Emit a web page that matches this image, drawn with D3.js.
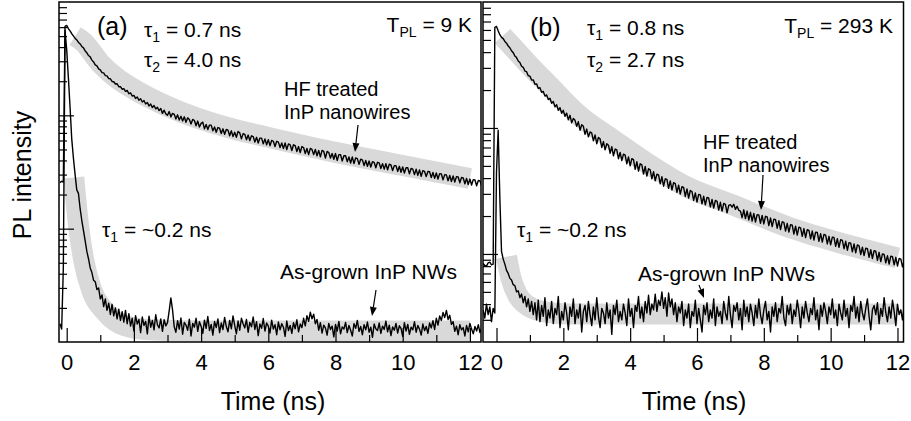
<!DOCTYPE html>
<html>
<head>
<meta charset="utf-8">
<script src="https://cdn.jsdelivr.net/npm/d3@7/dist/d3.min.js"></script>
<style>
  body { margin: 0; background: #fff; }
  svg { display: block; font-family: "Liberation Sans", Arial, Helvetica, sans-serif; }
</style>
</head>
<body>
<div id="chart"></div>
<script>
// x axis ticks (ns)
const timeTicks = [0, 2, 4, 6, 8, 10, 12];
const timeMinorTicks = [1, 3, 5, 7, 9, 11];

// ---- panel (a), T_PL = 9 K ----
// HF treated trace, sampled every 0.05 ns from -0.2 ns
const hfA_t0 = -0.2, hfA_dt = 0.05;
const hfA = [25.5, 26.2, 25.8, 610, 622, 583, 556, 525, 502, 478,
  463, 440, 427, 405, 394, 370, 356, 337, 328, 307,
  296, 279, 273, 257, 252, 238, 237, 224, 223, 211,
  210, 199, 198, 189, 190, 179, 179, 170, 172, 163,
  166, 155, 158, 148, 150, 141, 145, 136, 140, 131,
  135, 126, 130, 121, 126, 117, 122, 114, 118, 110,
  115, 104, 111, 103, 100, 108, 97, 104, 102, 93,
  101, 91, 98, 89, 97, 87, 95, 92, 84, 92,
  90, 81, 89, 79, 85, 87, 76, 83, 75, 82,
  82, 73, 79, 71, 78, 77, 69, 76, 68, 75,
  74, 66, 73, 65, 71, 64, 72, 70, 62, 69,
  68, 61, 67, 60, 66, 65, 58, 64, 57, 63,
  63, 56, 62, 55, 61, 54, 60, 59, 53, 59,
  58, 52, 57, 51, 57, 50, 56, 55, 49, 55,
  54, 48, 53, 47, 53, 52, 46, 51, 45, 51,
  50, 45, 50, 44, 49, 43, 49, 48, 42, 48,
  47, 42, 46, 41, 46, 40, 45, 45, 39.5, 44,
  44, 39, 43, 38, 43, 37.5, 42, 41.5, 37, 41,
  40.5, 36, 40, 35.5, 39.5, 35, 39, 38.5, 34.5, 38.5,
  38, 34, 37.5, 33.5, 37.5, 33, 37, 36.5, 32.5, 36,
  36, 32, 35.5, 31.5, 35, 31, 34.5, 34.5, 30.5, 34,
  33.5, 30, 33.5, 29.5, 33, 29, 32.5, 32, 28.8, 32,
  31.8, 28.2, 31.3, 27.8, 31, 27.4, 30.6, 30.4, 27, 30,
  29.8, 26.5, 29.5, 26.1, 29.2, 25.8, 28.8, 28.6, 25.4, 28.3,
  28.1, 24.9, 27.7, 24.5, 27.4, 24.3, 27.1, 26.9, 23.9, 26.6,
  26.4, 23.6];

// as-grown trace, sampled every 0.05 ns from -0.2 ns
const agA_t0 = -0.2, agA_dt = 0.05;
const agA = [1.45, 1.3, 4.5, 560, 380, 215, 118, 62, 42, 30, 22, 20.5, 15, 11.8, 9.6, 7.8, 6.3, 5.4, 4.5, 4.1,
  3.5, 3.4, 2.9, 3.0, 2.4, 2.6, 2.05, 2.4, 1.9, 2.2, 1.75, 2.15, 1.7, 2.0, 1.6, 1.95, 1.55, 1.85, 1.5, 1.9, 1.45,
  1.78, 1.38, 1.62, 1.25, 1.71, 1.44, 1.58, 1.21, 1.66, 1.40,
  1.52, 1.18, 1.69, 1.35, 1.55, 1.28, 1.74, 1.42, 1.33, 1.60,
  1.24, 1.57, 1.39, 1.48, 1.88, 2.45, 1.92, 1.36, 1.22, 1.54,
  1.30, 1.63, 1.17, 1.49, 1.41, 1.27, 1.59, 1.13, 1.46, 1.35,
  1.62, 1.24, 1.51, 1.38, 1.19, 1.56, 1.32, 1.68, 1.26, 1.43,
  1.15, 1.52, 1.34, 1.60, 1.21, 1.47, 1.29, 1.65, 1.37, 1.23,
  1.55, 1.31, 1.70, 1.40, 1.18, 1.53, 1.27, 1.62, 1.45, 1.33,
  1.58, 1.22, 1.49, 1.36, 1.66, 1.29, 1.51, 1.14, 1.44, 1.32,
  1.61, 1.25, 1.47, 1.38, 1.20, 1.56, 1.30, 1.42, 1.16, 1.50,
  1.28, 1.45, 1.35, 1.12, 1.53, 1.26, 1.40, 1.19, 1.48, 1.31,
  1.57, 1.23, 1.44, 1.34, 1.62, 1.39, 1.71, 1.52, 1.83, 1.60,
  1.76, 1.45, 1.58, 1.27, 1.48, 1.20, 1.41, 1.33, 1.15, 1.46,
  1.29, 1.38, 1.11, 1.43, 1.25, 1.52, 1.18, 1.36, 1.30, 1.49,
  1.21, 1.40, 1.27, 1.13, 1.45, 1.32, 1.55, 1.24, 1.37, 1.16,
  1.42, 1.28, 1.50, 1.22, 1.35, 1.10, 1.44, 1.31, 1.26, 1.47,
  1.19, 1.38, 1.29, 1.53, 1.23, 1.41, 1.14, 1.36, 1.27, 1.46,
  1.20, 1.39, 1.32, 1.12, 1.48, 1.25, 1.43, 1.17, 1.35, 1.28,
  1.51, 1.22, 1.40, 1.30, 1.15, 1.44, 1.26, 1.37, 1.19, 1.47,
  1.33, 1.54, 1.29, 1.62, 1.41, 1.70, 1.55, 1.82, 1.64, 1.90,
  1.58, 1.72, 1.43, 1.51, 1.24, 1.38, 1.16, 1.42, 1.28, 1.34,
  1.13, 1.40, 1.23, 1.46, 1.30, 1.18, 1.37, 1.25, 1.42, 1.21, 1.33];

// fit curves (grey bands)
const fitHfA_t = [0.25, 0.5, 1.0, 1.5, 2.0, 3.0, 4.0, 5.0, 6.0, 8.0, 10.0, 12.0];
const fitHfA = [500, 443, 288, 212, 170, 120, 92, 75.2, 63.9, 47.1, 36.1, 27.7];
const fitAgA_t = [0.21, 0.36, 0.51, 0.75, 1.13, 1.73, 2.48, 3.97, 12.0];
const fitAgA = [28.3, 10.2, 5.21, 2.83, 1.88, 1.39, 1.28, 1.25, 1.25];

// ---- panel (b), T_PL = 293 K ----
const hfB_t0 = -0.4, hfB_dt = 0.05;
const hfB = [8.4, 8.1, 8.0, 8.5, 8.6, 8.2, 8.3, 630, 640, 590,
  550, 524, 512, 486, 471, 447, 433, 410, 396, 373,
  362, 340, 331, 309, 303, 283, 280, 260, 258, 240,
  241, 222, 224, 206, 209, 192, 195, 179, 183, 168,
  172, 157, 162, 147, 153, 138, 145, 131, 138, 124,
  131, 116, 126, 110, 119, 115, 103, 112, 96, 106,
  103, 89, 98, 85, 93, 91, 79, 88, 75, 84,
  82, 70, 78, 67, 75, 73, 63, 71, 60, 68,
  67, 57, 64, 55, 62, 61, 52, 59, 50, 57,
  56, 47, 54, 45.5, 52, 51, 43, 49.5, 41.5, 47.5,
  46.5, 39.5, 45, 38, 43, 42.5, 36, 41, 34.5, 39.5,
  39, 33.2, 38, 32.2, 36.8, 36.2, 30.8, 35.2, 29.9, 34.2,
  33.8, 28.6, 32.8, 27.8, 31.9, 31.3, 26.6, 30.5, 25.8, 29.7,
  29.4, 25, 28.7, 24.5, 28.1, 27.8, 23.6, 27.1, 23.1, 26.6,
  26.2, 22.3, 25.7, 21.9, 25.2, 24.8, 21.2, 24.3, 24.6, 23.5,
  24.8, 22.6, 23.9, 22.2, 21.9, 19.4, 22.4, 19.1, 21.9, 18.6,
  21.4, 18.2, 21, 17.9, 20.5, 20.4, 17.5, 20.2, 17.3, 19.9,
  19.7, 16.8, 19.3, 16.5, 18.9, 18.7, 16, 18.4, 15.6, 18,
  17.8, 15.2, 17.5, 14.9, 17.1, 16.9, 14.4, 16.6, 14.1, 16.3,
  16.1, 13.8, 15.9, 13.5, 15.6, 15.4, 13.2, 15.2, 12.9, 14.9,
  14.8, 12.6, 14.5, 12.4, 14.3, 14.1, 12, 13.8, 11.8, 13.6,
  13.5, 11.5, 13.2, 11.3, 13, 12.8, 11, 12.6, 10.7, 12.3,
  12.2, 10.4, 12, 10.2, 11.8, 11.6, 9.9, 11.3, 9.7, 11.1,
  11, 9.4, 10.8, 9.2, 10.6, 10.5, 8.9, 10.3, 8.7, 10,
  9.9, 8.5, 9.7, 8.3, 9.6, 9.5, 8.2, 9.4, 8, 9.2,
  9.1, 7.9, 8.9];

const agB_t0 = -0.4, agB_dt = 0.05;
const agB = [3.6, 3.1, 4.0, 3.3, 3.8, 2.9, 3.7, 3.4, 45, 96, 28, 10.5, 9.1, 8.3, 7.4, 7.0, 6.4, 6.2, 5.7, 5.6,
  5.0, 5.1, 4.5, 4.8, 4.1, 4.6, 3.8, 4.4, 3.5, 4.2, 3.3, 4.1, 3.0,
  4.3, 2.9, 3.9, 3.2, 4.5, 2.7, 3.6, 3.1, 4.2, 2.8,
  3.7, 3.3, 4.6, 2.6, 3.5, 3.0, 4.1, 3.4, 2.5, 3.8,
  3.2, 4.4, 2.8, 3.6, 3.1, 4.0, 2.4, 3.5, 3.9, 2.9,
  4.2, 3.3, 2.7, 3.8, 3.0, 4.5, 3.2, 2.6, 3.7, 3.4,
  2.8, 4.1, 3.1, 3.6, 2.3, 3.9, 3.3, 4.3, 2.9, 3.5,
  3.0, 4.0, 3.4, 2.7, 4.4, 3.2, 3.7, 2.6, 3.9, 3.5,
  4.6, 3.1, 3.8, 2.9, 4.2, 3.4, 4.7, 3.3, 4.0, 3.6,
  4.8, 3.5, 4.3, 3.9, 5.0, 3.7, 4.5, 3.2, 4.9, 3.8,
  4.4, 3.3, 4.1, 2.9, 3.8, 3.4, 4.2, 2.7, 3.6, 3.1,
  4.0, 2.6, 3.5, 3.2, 4.3, 2.8, 3.7, 3.0, 2.4, 3.9,
  3.3, 4.1, 2.9, 3.6, 3.1, 4.4, 2.7, 3.8, 3.2, 3.5,
  2.8, 4.2, 3.4, 3.0, 4.6, 3.3, 2.6, 3.9, 3.5, 4.1,
  3.0, 3.7, 2.5, 4.3, 3.2, 3.8, 2.9, 4.0, 3.4, 2.7,
  3.9, 3.1, 4.4, 3.3, 2.8, 3.6, 4.2, 3.0, 3.5, 2.4,
  3.8, 3.2, 4.1, 2.9, 3.7, 3.4, 4.6, 3.1, 2.7, 3.9,
  3.3, 4.0, 2.8, 3.6, 3.2, 4.3, 3.5, 2.6, 3.8, 3.1,
  4.2, 3.4, 2.9, 3.7, 3.3, 4.5, 3.0, 3.6, 2.5, 3.9,
  3.2, 4.1, 3.5, 2.8, 3.8, 3.3, 4.4, 3.1, 3.6, 2.7,
  4.0, 3.4, 3.0, 4.3, 3.2, 3.7, 2.6, 3.9, 3.5, 4.6,
  3.1, 3.8, 2.9, 4.2, 3.4, 3.0, 3.7, 4.4, 3.2, 2.5,
  3.6, 3.9, 3.3, 4.1, 2.8, 3.7, 3.2, 4.5, 3.4, 2.9,
  3.8, 3.1, 4.3, 3.5, 2.7, 4.0, 3.3, 3.6, 3.0, 3.9];

const fitHfB_t = [0.18, 0.48, 1.0, 1.5, 2.49, 3.5, 4.5, 5.7, 7.0, 8.8, 10.5, 12.0];
const fitHfB = [537, 440, 311, 228, 124.5, 80.3, 52.7, 34.0, 24.9, 16.1, 11.8, 9.3];
const fitAgB_t = [0.30, 0.45, 0.63, 0.90, 1.44, 2.19, 12.0];
const fitAgB = [9.5, 6.2, 4.73, 3.94, 3.47, 3.34, 3.34];

// ---------------------------------------------------------------
const W = 911, H = 421;
const plotTop = 2, plotBottom = 342;

const sampled = (t0, dt, vals) => vals.map((v, i) => ({ t: t0 + i * dt, v }));
const paired = (ts, vals) => ts.map((t, i) => ({ t, v: vals[i] }));

const panels = [
  {
    id: "a", left: 59, right: 481, xDomain: [-0.229, 12.33], yDomain: [1, 1000],
    traces: [sampled(hfA_t0, hfA_dt, hfA), sampled(agA_t0, agA_dt, agA)],
    fits: [paired(fitHfA_t, fitHfA), paired(fitAgA_t, fitAgA)],
    label: "(a)", labelX: 97, labelY: 35,
    tau: ["0.7", "4.0"], tauX: 144, tauY: [37, 67],
    temp: "9 K", tempX: 472, tempY: 32,
    hfX: 284, hfY: 96, hfArrow: [358, 125, 355, 152],
    fastX: 102, fastY: 237,
    agX: 280, agY: 279, agArrow: [376, 290, 372, 316],
    titleX: 273
  },
  {
    id: "b", left: 483, right: 903.5, xDomain: [-0.404, 12.18], yDomain: [2, 1000],
    traces: [sampled(hfB_t0, hfB_dt, hfB), sampled(agB_t0, agB_dt, agB)],
    fits: [paired(fitHfB_t, fitHfB), paired(fitAgB_t, fitAgB)],
    label: "(b)", labelX: 530, labelY: 36,
    tau: ["0.8", "2.7"], tauX: 587, tauY: [35, 67],
    temp: "293 K", tempX: 893, tempY: 33,
    hfX: 703, hfY: 149, hfArrow: [763, 175, 761, 210],
    fastX: 517, fastY: 237,
    agX: 638, agY: 281, agArrow: [699, 285, 704, 298],
    titleX: 694
  }
];

const svg = d3.select("#chart").append("svg")
  .attr("width", W).attr("height", H);

function arrow(g, [x1, y1, x2, y2]) {
  const a = Math.atan2(y2 - y1, x2 - x1);
  const len = 9, half = 3.5;
  const bx = x2 - len * Math.cos(a), by = y2 - len * Math.sin(a);
  g.append("line").attr("x1", x1).attr("y1", y1).attr("x2", bx).attr("y2", by)
    .attr("stroke", "#000").attr("stroke-width", 1.2);
  g.append("path")
    .attr("d", `M${x2},${y2}L${bx - half * Math.sin(a)},${by + half * Math.cos(a)}L${bx + half * Math.sin(a)},${by - half * Math.cos(a)}Z`)
    .attr("fill", "#000");
}

function subText(g, x, y, size, main, sub, rest, anchor) {
  const t = g.append("text").attr("x", x).attr("y", y).attr("font-size", size)
    .attr("text-anchor", anchor || "start");
  t.append("tspan").text(main);
  t.append("tspan").attr("dy", 5).attr("font-size", 14).text(sub);
  t.append("tspan").attr("dy", -5).text(rest);
}

panels.forEach((p) => {
  const x = d3.scaleLinear().domain(p.xDomain).range([p.left, p.right]);
  const y = d3.scaleLog().domain(p.yDomain).range([plotBottom, plotTop]);
  const g = svg.append("g");

  g.append("clipPath").attr("id", "clip-" + p.id)
    .append("rect").attr("x", p.left).attr("y", plotTop)
    .attr("width", p.right - p.left).attr("height", plotBottom - plotTop);

  const line = d3.line().x((d) => x(d.t)).y((d) => y(d.v));
  const fitLine = d3.line().x((d) => x(d.t)).y((d) => y(d.v)).curve(d3.curveMonotoneX);

  const plot = g.append("g").attr("clip-path", `url(#clip-${p.id})`);

  // grey fit bands
  p.fits.forEach((f) => {
    plot.append("path").datum(f)
      .attr("fill", "none").attr("stroke", "#d9d9d9")
      .attr("stroke-width", 21).attr("stroke-linecap", "butt")
      .attr("d", fitLine);
  });

  // measured traces
  p.traces.forEach((tr) => {
    plot.append("path").datum(tr)
      .attr("fill", "none").attr("stroke", "#000")
      .attr("stroke-width", 1.4).attr("stroke-linejoin", "round")
      .attr("d", line);
  });

  // frame
  g.append("rect").attr("x", p.left).attr("y", plotTop)
    .attr("width", p.right - p.left).attr("height", plotBottom - plotTop)
    .attr("fill", "none").attr("stroke", "#000").attr("stroke-width", 1.5);

  // x ticks pointing inward
  g.append("g").attr("transform", `translate(0,${plotBottom})`)
    .call(d3.axisTop(x).tickValues(timeTicks).tickSize(14).tickFormat(""))
    .call((a) => a.select(".domain").remove());
  g.append("g").attr("transform", `translate(0,${plotBottom})`)
    .call(d3.axisTop(x).tickValues(timeMinorTicks).tickSize(7).tickFormat(""))
    .call((a) => a.select(".domain").remove());
  g.append("g").attr("transform", `translate(0,${plotBottom})`)
    .call(d3.axisBottom(x).tickValues(timeTicks).tickSize(0).tickPadding(12.5))
    .call((a) => a.select(".domain").remove())
    .call((a) => a.selectAll("text").attr("font-size", 22).attr("font-family", null).attr("fill", "#000"));

  // log y ticks on the left edge, pointing inward
  const decades = [1, 10, 100].filter((d) => d * 10 > p.yDomain[0]);
  const majors = [10, 100];
  const minors = [];
  decades.forEach((d) => [2, 3, 4, 5, 6, 7, 8, 9].forEach((m) => {
    const v = d * m;
    if (v > p.yDomain[0] && v < p.yDomain[1]) minors.push(v);
  }));
  g.append("g").attr("transform", `translate(${p.left},0)`)
    .call(d3.axisRight(y).tickValues(majors).tickSize(15).tickFormat(""))
    .call((a) => a.select(".domain").remove());
  g.append("g").attr("transform", `translate(${p.left},0)`)
    .call(d3.axisRight(y).tickValues(minors).tickSize(8).tickFormat(""))
    .call((a) => a.select(".domain").remove());
  g.selectAll(".tick line").attr("stroke", "#000").attr("stroke-width", 1.2);

  // annotations
  g.append("text").attr("x", p.labelX).attr("y", p.labelY).attr("font-size", 25).text(p.label);
  subText(g, p.tauX, p.tauY[0], 21, "τ", "1", " = " + p.tau[0] + " ns");
  subText(g, p.tauX, p.tauY[1], 21, "τ", "2", " = " + p.tau[1] + " ns");
  subText(g, p.tempX, p.tempY, 21, "T", "PL", " = " + p.temp, "end");

  const hf = g.append("text").attr("font-size", 20);
  hf.append("tspan").attr("x", p.hfX).attr("y", p.hfY).text("HF treated");
  hf.append("tspan").attr("x", p.hfX).attr("y", p.hfY + 22.5).text("InP nanowires");
  arrow(g, p.hfArrow);

  subText(g, p.fastX, p.fastY, 21, "τ", "1", " = ~0.2 ns");

  g.append("text").attr("x", p.agX).attr("y", p.agY).attr("font-size", 21).text("As-grown InP NWs");
  arrow(g, p.agArrow);

  g.append("text").attr("x", p.titleX).attr("y", 410).attr("font-size", 25)
    .attr("text-anchor", "middle").text("Time (ns)");
});

svg.append("text")
  .attr("transform", "translate(31,175) rotate(-90)")
  .attr("text-anchor", "middle").attr("font-size", 25)
  .text("PL intensity");
</script>
</body>
</html>
